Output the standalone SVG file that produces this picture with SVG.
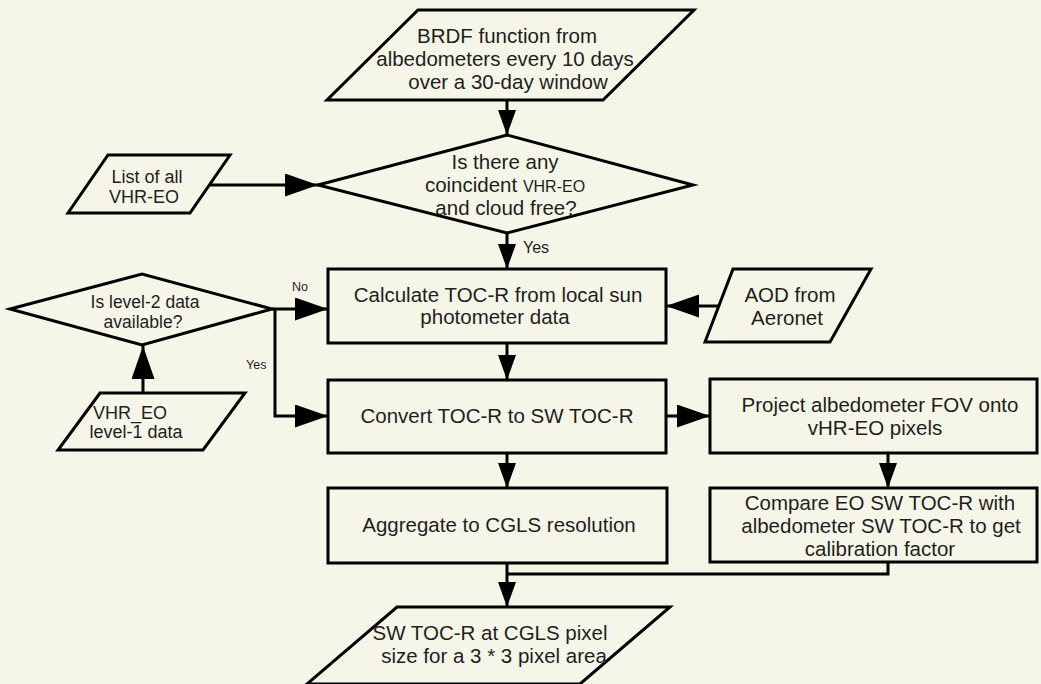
<svg xmlns="http://www.w3.org/2000/svg" width="1041" height="684" viewBox="0 0 1041 684">
<style>
.bg{fill:#f6f6e8}
.sh{fill:#f6f6e8;stroke:#000;stroke-width:3;stroke-linejoin:miter}
.cn{fill:none;stroke:#000;stroke-width:3}
text{font-family:"Liberation Sans",Arial,sans-serif;fill:#1e1e1e;text-anchor:middle}
.t20{font-size:20.5px}
.t18{font-size:18px}
.t17{font-size:17.5px}
.lbl{font-size:16px;text-anchor:start}
.lbs{font-size:12.5px;text-anchor:start}
</style>
<defs>
<marker id="big" markerUnits="userSpaceOnUse" markerWidth="34" markerHeight="24" refX="33" refY="11.5" orient="auto">
<path d="M0,0 L33,11.5 L0,23 z" fill="#000"/>
</marker>
<marker id="sm" markerUnits="userSpaceOnUse" markerWidth="26" markerHeight="19" refX="25" refY="9" orient="auto">
<path d="M0,0 L25,9 L0,18 z" fill="#000"/>
</marker>
</defs>
<rect class="bg" x="0" y="0" width="1041" height="684"/>

<g id="connectors">
<line class="cn" x1="507" y1="100" x2="507" y2="135" marker-end="url(#sm)"/>
<line class="cn" x1="210" y1="185" x2="318" y2="185" marker-end="url(#big)"/>
<line class="cn" x1="507" y1="233" x2="507" y2="269" marker-end="url(#sm)"/>
<line class="cn" x1="272" y1="309" x2="328" y2="309" marker-end="url(#big)"/>
<polyline class="cn" points="275,309 275,416 328,416" marker-end="url(#big)"/>
<line class="cn" x1="143" y1="393" x2="143" y2="346" marker-end="url(#big)"/>
<line class="cn" x1="719" y1="306" x2="666" y2="306" marker-end="url(#big)"/>
<line class="cn" x1="507" y1="343" x2="507" y2="380" marker-end="url(#sm)"/>
<line class="cn" x1="666" y1="416" x2="710" y2="416" marker-end="url(#big)"/>
<line class="cn" x1="888" y1="453" x2="888" y2="488" marker-end="url(#sm)"/>
<line class="cn" x1="507" y1="453" x2="507" y2="488" marker-end="url(#sm)"/>
<line class="cn" x1="507" y1="563" x2="507" y2="607" marker-end="url(#sm)"/>
<polyline class="cn" points="888,562 888,574 506,574"/>
<text class="lbl" x="523" y="253">Yes</text>
<text class="lbs" x="292" y="291">No</text>
<text class="lbs" x="246" y="369">Yes</text>
</g>

<g id="brdf">
<polygon class="sh" points="418,10 694,10 603,100 327,100"/>
<text class="t20" x="507" y="43">BRDF function from</text>
<text class="t20" x="505" y="66">albedometers every 10 days</text>
<text class="t20" x="508" y="89">over a 30-day window</text>
</g>

<g id="decision-coincident">
<polygon class="sh" points="318,185 507,135 693,185 507,233"/>
<text class="t20" x="505" y="169">Is there any</text>
<text class="t20" x="505" y="192">coincident <tspan font-size="16">VHR-EO</tspan></text>
<text class="t20" x="506" y="215">and cloud free?</text>
</g>

<g id="list-vhr">
<polygon class="sh" points="108,155 230,155 190,213 68,213"/>
<text class="t18" x="147" y="183">List of all</text>
<text class="t18" x="144" y="203">VHR-EO</text>
</g>

<g id="decision-level2">
<polygon class="sh" points="10,309 142,274 272,309 142,345"/>
<text class="t17" x="145" y="308">Is level-2 data</text>
<text class="t17" x="143" y="328">available?</text>
</g>

<g id="vhr-level1">
<polygon class="sh" points="100,393 245,393 203,450 58,450"/>
<text class="t18" x="130" y="419">VHR_EO</text>
<text class="t18" x="136" y="438">level-1 data</text>
</g>

<g id="calc-toc">
<rect class="sh" x="328" y="269" width="338" height="74"/>
<text class="t20" x="498" y="302">Calculate TOC-R from local sun</text>
<text class="t20" x="495" y="324">photometer data</text>
</g>

<g id="aod">
<polygon class="sh" points="733,269 871,269 830,342 705,342"/>
<text class="t20" x="790" y="302">AOD from</text>
<text class="t20" x="787" y="325">Aeronet</text>
</g>

<g id="convert">
<rect class="sh" x="328" y="380" width="338" height="73"/>
<text class="t20" x="497" y="423">Convert TOC-R to SW TOC-R</text>
</g>

<g id="project">
<rect class="sh" x="710" y="379" width="327" height="74"/>
<text class="t20" x="880" y="412">Project albedometer FOV onto</text>
<text class="t20" x="875" y="435">vHR-EO pixels</text>
</g>

<g id="compare">
<rect class="sh" x="710" y="488" width="327" height="74"/>
<text class="t20" x="880" y="510">Compare EO SW TOC-R with</text>
<text class="t20" x="881" y="533">albedometer SW TOC-R to get</text>
<text class="t20" x="880" y="556">calibration factor</text>
</g>

<g id="aggregate">
<rect class="sh" x="328" y="488" width="339" height="75"/>
<text class="t20" x="499" y="532">Aggregate to CGLS resolution</text>
</g>

<g id="output">
<polygon class="sh" points="397,607 670,607 580,684 307,684"/>
<text class="t20" x="490" y="640">SW TOC-R at CGLS pixel</text>
<text class="t20" x="494" y="663">size for a 3 * 3 pixel area</text>
</g>
</svg>
